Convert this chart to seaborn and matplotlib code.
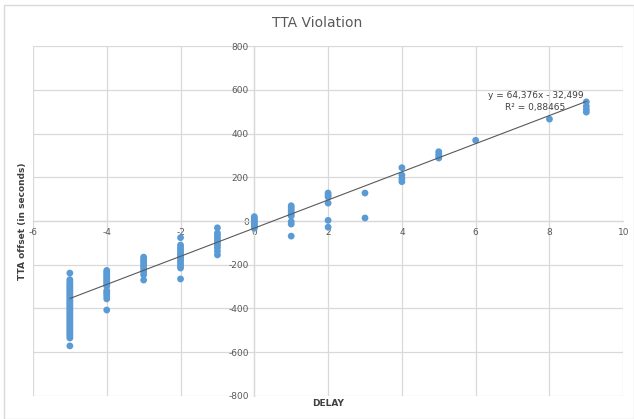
import numpy as np
import pandas as pd
import matplotlib
matplotlib.use("Agg")
import matplotlib.pyplot as plt
import seaborn as sns
from matplotlib.patches import Rectangle

# ---- data ----
delay_m5 = [-5] * 36
off_m5 = [-238, -268, -278, -286, -294, -302, -310, -318, -326, -334, -342, -350,
          -358, -366, -374, -382, -390, -398, -406, -414, -422, -430, -438, -446,
          -454, -462, -470, -478, -486, -494, -502, -510, -518, -526, -535, -571]
delay_m4 = [-4] * 16
off_m4 = [-226, -234, -242, -250, -258, -266, -274, -282, -290, -298, -318,
          -326, -334, -344, -356, -407]
delay_m3 = [-3] * 10
off_m3 = [-165, -174, -183, -192, -201, -210, -220, -232, -246, -270]
delay_m2 = [-2] * 14
off_m2 = [-76, -110, -120, -130, -140, -150, -158, -166, -175, -184, -195, -205,
          -215, -265]
delay_m1 = [-1] * 10
off_m1 = [-31, -55, -66, -77, -88, -99, -110, -122, -138, -155]
delay_0 = [0] * 9
off_0 = [20, 12, 5, -2, -8, -14, -20, -27, -33]
delay_1 = [1] * 9
off_1 = [70, 60, 50, 40, 30, 23, -3, -14, -69]
delay_2 = [2] * 6
off_2 = [128, 118, 110, 82, 3, -28]
delay_3 = [3] * 2
off_3 = [128, 14]
delay_4 = [4] * 4
off_4 = [244, 210, 194, 180]
delay_5 = [5] * 4
off_5 = [317, 307, 297, 288]
delay_6 = [6]
off_6 = [369]
delay_8 = [8]
off_8 = [466]
delay_9 = [9] * 4
off_9 = [545, 525, 510, 498]

trend_slope = 64.376
trend_intercept = -32.499
eq_text = "y = 64,376x - 32,499"
r2_text = "R² = 0,88465"

title = "TTA Violation"
xlabel = "DELAY"
ylabel = "TTA offset (in seconds)"
xticks = [-6, -4, -2, 0, 2, 4, 6, 8, 10]
yticks = [-800, -600, -400, -200, 0, 200, 400, 600, 800]

delay = (delay_m5 + delay_m4 + delay_m3 + delay_m2 + delay_m1 + delay_0 + delay_1
         + delay_2 + delay_3 + delay_4 + delay_5 + delay_6 + delay_8 + delay_9)
offset = (off_m5 + off_m4 + off_m3 + off_m2 + off_m1 + off_0 + off_1 + off_2
          + off_3 + off_4 + off_5 + off_6 + off_8 + off_9)
df = pd.DataFrame({"DELAY": delay, "offset": offset})

# ---- plot ----
sns.set_theme(style="white")
plt.rcParams["font.family"] = ["DejaVu Sans"]

fig = plt.figure(figsize=(6.34, 4.19), dpi=100)
fig.patches.append(Rectangle((0.007, 0.0), 0.993, 0.988, transform=fig.transFigure,
                             fill=False, edgecolor="#d9d9d9", linewidth=1.0))
ax = fig.add_axes([0.052, 0.055, 0.931, 0.835])

grid_c = "#d9d9d9"
sns.scatterplot(data=df, x="DELAY", y="offset", ax=ax, color="#5b9bd5",
                s=24, edgecolor="none", linewidth=0, zorder=3)

xs = np.array([min(delay), max(delay)])
ax.plot(xs, trend_slope * xs + trend_intercept, color="#595959", linewidth=0.8, zorder=4)

ax.set_xlim(-6, 10)
ax.set_ylim(-800, 800)
ax.set_xticks(xticks)
ax.set_yticks(yticks)
ax.set_xticklabels([str(t) for t in xticks])
ax.set_yticklabels([str(t) for t in yticks])
ax.grid(True, color=grid_c, linewidth=0.9)
ax.set_axisbelow(True)

for s in ["top", "right"]:
    ax.spines[s].set_visible(False)
ax.spines["left"].set_position(("data", 0))
ax.spines["bottom"].set_position(("data", 0))
for s in ["left", "bottom"]:
    ax.spines[s].set_color(grid_c)
    ax.spines[s].set_linewidth(0.9)

ax.tick_params(axis="both", length=0, labelsize=6.5, labelcolor="#595959")
ax.tick_params(axis="x", pad=5)
ax.tick_params(axis="y", pad=4)

ax.set_xlabel("")
ax.set_ylabel("")
fig.text(0.518, 0.038, xlabel, ha="center", va="center", fontsize=6.5,
         fontweight="bold", color="#404040")
fig.text(0.035, 0.472, ylabel, ha="center", va="center", rotation=90, fontsize=6.5,
         fontweight="bold", color="#404040")
fig.text(0.5, 0.945, title, ha="center", va="center", fontsize=10, color="#595959")

ax.text(7.62, 576, eq_text, ha="center", va="center", fontsize=6.5, color="#404040")
ax.text(7.62, 521, r2_text, ha="center", va="center", fontsize=6.5, color="#404040")

fig.savefig("out.png", dpi=100)
